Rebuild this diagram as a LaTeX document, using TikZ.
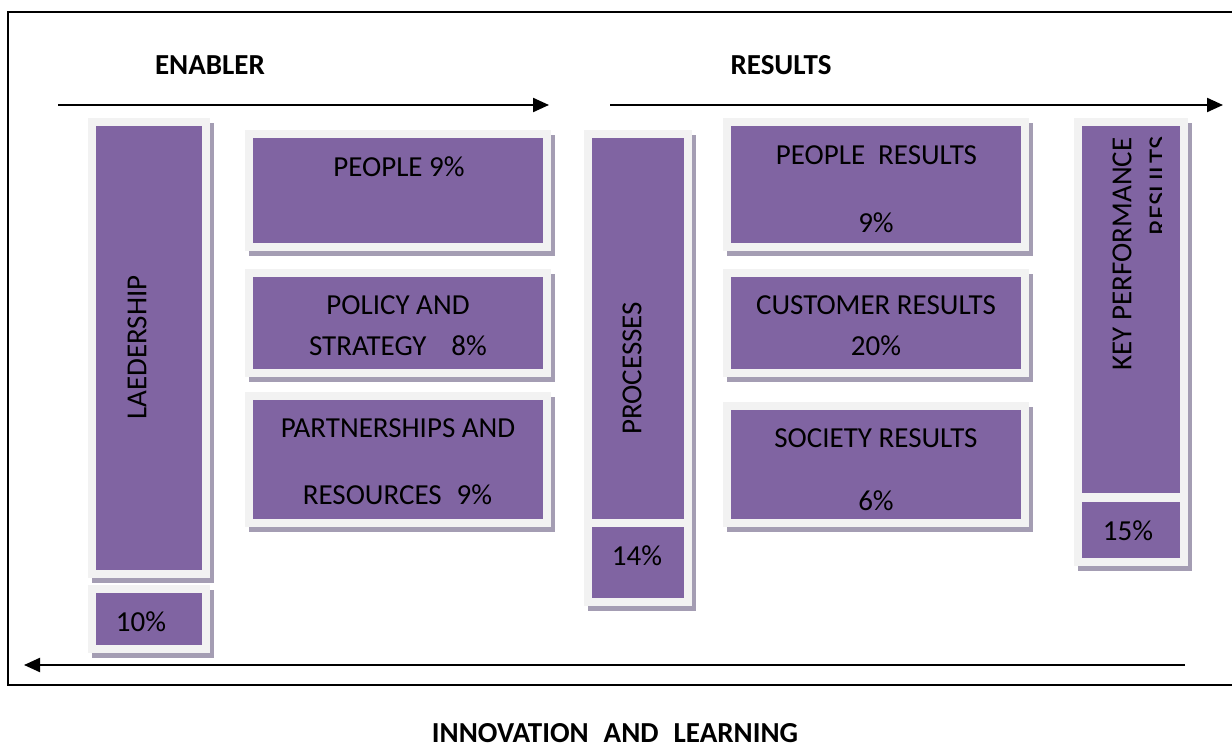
\documentclass[tikz,border=0pt]{standalone}
\usepackage{fontspec}
\setmainfont{Carlito}
\usetikzlibrary{arrows.meta}
\definecolor{boxpurple}{HTML}{8064A2}
\definecolor{framegray}{HTML}{F2F2F2}
\definecolor{shadowgray}{HTML}{A49DB3}
\tikzset{
  lbl/.style={font=\fontsize{29}{31}\selectfont, inner sep=0pt, text=black},
  head/.style={font=\fontsize{29}{31}\selectfont\bfseries, inner sep=0pt, text=black},
  flow/.style={line width=2.2pt, -{Triangle[length=16pt,width=14pt]}},
  pbox/.style={fill=boxpurple, inner sep=0pt, draw=none},
}
\newcommand{\efqmbox}[5]{%
  \fill[shadowgray] (#2-4,#3-3) rectangle (#4+12,#5+13);
  \fill[framegray] (#2-8,#3-8) rectangle (#4+8,#5+8);
  \node[pbox, minimum width={(#4-#2)*1pt}, minimum height={(#5-#3)*1pt}] (#1) at ({(#2+#4)/2},{(#3+#5)/2}) {};
}
\begin{document}
\begin{tikzpicture}[x=1pt,y=-1pt]
\useasboundingbox (0,0) rectangle (1232,751);
\fill[white] (0,0) rectangle (1232,751);
% outer frame
\draw[line width=1.8pt] (8,12) rectangle (1236,685);

% headings
\node[head] (enabler) at (210,65) {ENABLER};
\node[head] (results) at (781,65) {RESULTS};
\node[head] (innov) at (615,733) {INNOVATION\hspace{15pt}AND\hspace{15pt}LEARNING};

% arrows
\coordinate (e1) at (58,105);
\coordinate (e2) at (549,105);
\coordinate (r1) at (610,105);
\coordinate (r2) at (1223,105);
\coordinate (b1) at (1185,665);
\coordinate (b2) at (24,665);
\draw[flow] (e1) -- (e2);
\draw[flow] (r1) -- (r2);
\draw[flow] (b1) -- (b2);

% boxes
\efqmbox{lead}{96}{126}{202}{570}
\efqmbox{leadp}{96}{593}{202}{645}
\efqmbox{people}{253}{138}{543}{243}
\efqmbox{policy}{253}{277}{543}{369}
\efqmbox{partn}{253}{400}{543}{519}
\efqmbox{proc}{592}{138}{684}{519}
\efqmbox{procp}{592}{527}{684}{598}
\efqmbox{pres}{731}{126}{1021}{243}
\efqmbox{cres}{731}{277}{1021}{369}
\efqmbox{sres}{731}{410}{1021}{519}
\efqmbox{kpr}{1082}{126}{1180}{493}
\efqmbox{kprp}{1082}{502}{1180}{558}

% texts
\node[lbl, rotate=90] (tlead) at (137,347.5) {LAEDERSHIP};
\node[lbl] (tleadp) at (141,622) {10\%};
\node[lbl] (tpeople) at (399,167) {PEOPLE 9\%};
\node[lbl] (tpol1) at (398,305) {POLICY AND};
\node[lbl] (tpol2) at (398,346) {STRATEGY\hspace{25pt}8\%};
\node[lbl] (tpar1) at (398,428) {PARTNERSHIPS AND};
\node[lbl] (tpar2) at (397.5,495) {RESOURCES\hspace{15pt}9\%};
\node[lbl, rotate=90] (tproc) at (632,368.5) {PROCESSES};
\node[lbl] (tprocp) at (637,556) {14\%};
\node[lbl] (tpres1) at (876.5,155) {PEOPLE\hspace{13pt}RESULTS};
\node[lbl] (tpres2) at (876,223) {9\%};
\node[lbl] (tcres1) at (876,305) {CUSTOMER RESULTS};
\node[lbl] (tcres2) at (876,346) {20\%};
\node[lbl] (tsres1) at (876,438) {SOCIETY RESULTS};
\node[lbl] (tsres2) at (876,501) {6\%};
\node[lbl, rotate=90] (tkpr1) at (1122,254) {KEY PERFORMANCE};
\begin{scope}
  \clip (1082,126) rectangle (1161,493);
  \node[lbl, rotate=90] (tkpr2) at (1159,186) {RESULTS};
\end{scope}
\node[lbl] (tkprp) at (1128,531) {15\%};
\end{tikzpicture}
\end{document}
